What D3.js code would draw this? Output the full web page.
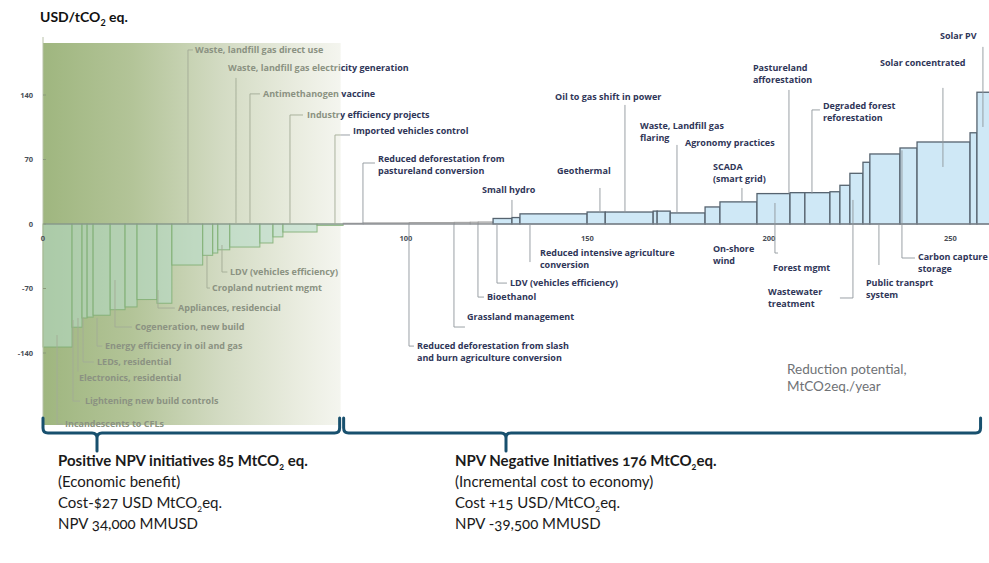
<!DOCTYPE html>
<html><head><meta charset="utf-8">
<script src="https://cdn.jsdelivr.net/npm/d3@7"></script>
<style>
html,body{margin:0;padding:0;background:#fff;}
svg{display:block;}
</style></head>
<body>
<svg id="c" width="989" height="563"></svg>
<script>
// ---------------- DATA ----------------
// Abatement measures, in curve order: width = reduction potential (MtCO2eq/year), cost = USD/tCO2eq
const barWidths = [8.0, 2.75, 1.4, 1.65, 4.7, 4.1, 3.3, 5.5, 4.1, 8.5, 2.75, 1.4, 3.3, 8.3, 3.6, 2.75, 9.4, 7.2,
  5.5, 12.7, 12.4, 4.4, 2.2, 4.1,
  5.2, 2.2, 18.5, 5.0, 13.2, 1.1, 3.6, 9.6, 4.1, 10.2, 9.1, 4.1, 6.9, 2.75, 2.75, 3.6, 1.9, 8.3, 4.7, 14.6, 1.9, 3.6];
const barCosts = [-133.5, -112, -102, -101, -99, -93, -90, -82, -86, -44.5, -34, -31.5, -28, -25, -20.6, -14, -8.7, -1.5,
  0.8, 1.2, 1.5, 1.8, 2, 2.2,
  6, 7, 11, 13, 13, 14, 14, 12, 18.5, 24, 33, 34, 34, 35, 42, 55, 67, 76, 82.5, 89, 99, 143];

const yTicks = [140, 70, 0, -70, -140];
const xTicks = [0, 100, 150, 200, 250];
const yTitle = ["USD/tCO", "2", " eq."];
const xTitle = ["Reduction potential,", "MtCO2eq./year"];
const npvSplit = 82; // MtCO2 where the positive-NPV group ends

// labels: text lines, and anchor / leader in data units (Mt, USD)
const labelTexts = [
  ["Incandescents to CFLs"], ["Lightening new build controls"], ["Electronics, residential"], ["LEDs, residential"],
  ["Energy efficiency in oil and gas"], ["Cogeneration, new build"], ["Appliances, residencial"], ["Cropland nutrient mgmt"],
  ["LDV (vehicles efficiency)"],
  ["Waste, landfill gas direct use"], ["Waste, landfill gas electricity generation"], ["Antimethanogen vaccine"],
  ["Industry efficiency projects"], ["Imported vehicles control"], ["Reduced deforestation from", "pastureland conversion"],
  ["Small hydro"], ["Geothermal"], ["Oil to gas shift in power"], ["Waste, Landfill gas", "flaring"], ["Agronomy practices"],
  ["SCADA", "(smart grid)"], ["Pastureland", "afforestation"], ["Degraded forest", "reforestation"], ["Solar concentrated"], ["Solar PV"],
  ["Reduced deforestation from slash", "and burn agriculture conversion"], ["Grassland management"], ["Bioethanol"],
  ["LDV (vehicles efficiency)"], ["Reduced intensive agriculture", "conversion"], ["On-shore", "wind"], ["Forest mgmt"],
  ["Wastewater", "treatment"], ["Public transprt", "system"], ["Carbon capture", "storage"]
];
const labelAt = [
  [6.06,-217.2],[11.57,-192.2],[9.9,-167.2],[14.88,-149.8],[17.08,-132.5],[25.34,-111.8],[37.19,-91.2],[46.56,-69.5],[51.52,-52.1],
  [41.87,188.9],[50.96,169.4],[60.61,141.2],[72.73,118.3],[85.4,101],[92.29,70.6],
  [120.94,36.9],[141.6,57.5],[141.05,137.9],[164.46,106.4],[176.86,87.9],[184.57,61.9],[195.59,169.4],[214.88,128.1],[230.58,174.8],[247.11,204.1],
  [103.03,-132.5],[116.8,-101],[122.31,-79.3],[128.65,-64.1],[136.91,-31.5],[184.57,-27.1],[201.1,-47.8],[199.72,-73.8],[226.72,-64.1],[241.05,-35.8]
];
const labelLeaders = [
  [[3.86,-120.5],[3.86,-217.2],[5.51,-217.2]],
  [[8.26,-104.2],[8.26,-192.2],[10.19,-192.2]],
  [[9.64,-102],[9.64,-160]],
  [[11.02,-101],[11.02,-149.8],[14,-149.8]],
  [[14.88,-102],[14.88,-132.5],[16.3,-132.5]],
  [[19.83,-60.8],[19.83,-111.8],[24.5,-111.8]],
  [[31.68,-71.7],[31.68,-91.2],[36.3,-91.2]],
  [[45.18,-33.7],[45.18,-69.5],[46,-69.5]],
  [[49.31,-22.8],[49.31,-52.1],[50.8,-52.1]],
  [[39.94,0],[39.94,188.9],[41.3,188.9]],
  [[53.17,0],[53.17,158.5]],
  [[57.02,0],[57.02,141.2],[59.78,141.2]],
  [[68.04,0],[68.04,118.3],[71.63,118.3]],
  [[80.44,0],[80.44,96.6],[84.57,96.6]],
  [[88.15,0],[88.15,66.2],[91.46,66.2]],
  [[129.2,26.1],[129.2,7.6]],
  [[153.44,39.1],[153.44,11.9]],
  [[160.33,129.2],[160.33,11.9]],
  [[174.66,85.8],[174.66,13]],
  [],
  [[192.56,39.1],[192.56,24]],
  [[205.51,145.5],[205.51,33]],
  [[214.05,123.8],[211.85,123.8],[211.85,33]],
  [[247.93,147.7],[247.93,61.9]],
  [[258.95,192.2],[258.95,105.3]],
  [[100.83,0],[100.83,-132.5],[102.2,-132.5]],
  [[113.22,0],[113.22,-111.8],[116.25,-111.8]],
  [[119.83,0],[119.83,-79.3],[121.49,-79.3]],
  [[125.07,0],[125.07,-64.1],[127.82,-64.1]],
  [[134.16,0],[134.16,-41.3]],
  [],
  [[201.65,22.8],[201.65,-31.5],[202.5,-31.5]],
  [[223.14,26.1],[223.14,-80.3],[219.56,-80.3]],
  [[230.3,0],[230.3,-44.5]],
  [[236.64,80],[236.64,-36.9],[240.22,-36.9]]
];

const leftSummary = [
  [["Positive NPV initiatives 85 MtCO", false], ["2", true], [" eq.", false]],
  [["(Economic benefit)", false]],
  [["Cost-$27 USD MtCO", false], ["2", true], ["eq.", false]],
  [["NPV 34,000 MMUSD", false]]
];
const rightSummary = [
  [["NPV Negative Initiatives 176 MtCO", false], ["2", true], ["eq.", false]],
  [["(Incremental cost to economy)", false]],
  [["Cost +15 USD/MtCO", false], ["2", true], ["eq.", false]],
  [["NPV -39,500 MMUSD", false]]
];

// ---------------- CHART ----------------
const svg = d3.select("#c");
const x = d3.scaleLinear().domain([0, 262]).range([43, 994]);
const y = d3.scaleLinear().domain([-140, 140]).range([353, 95]);
const panelTop = 43, panelBottom = 425;
const splitX = x(npvSplit);

const defs = svg.append("defs");
const g = defs.append("linearGradient").attr("id", "green").attr("x1", 0).attr("x2", 1).attr("y1", 0).attr("y2", 0);
[[0, "#9fb67f"], [0.3, "#b3c498"], [0.6, "#d3dbc3"], [0.85, "#e9ecdf"], [1, "#f4f5ef"]]
  .forEach(([o, c]) => g.append("stop").attr("offset", o).attr("stop-color", c));
defs.append("clipPath").attr("id", "clipL").append("rect")
  .attr("x", 0).attr("y", 0).attr("width", splitX).attr("height", 563);
defs.append("clipPath").attr("id", "clipR").append("rect")
  .attr("x", splitX).attr("y", 0).attr("width", 989 - splitX).attr("height", 563);

// green background panel for positive NPV
svg.append("rect").attr("x", x(0)).attr("y", panelTop)
  .attr("width", splitX - x(0)).attr("height", panelBottom - panelTop).attr("fill", "url(#green)");

// bars
const starts = [0, ...d3.cumsum(barWidths)].slice(0, barWidths.length);
const bars = barWidths.map((w, i) => ({ x0: starts[i], w, c: barCosts[i] }));
svg.append("g").selectAll("rect").data(bars).join("rect")
  .attr("x", d => x(d.x0))
  .attr("width", d => x(d.x0 + d.w) - x(d.x0))
  .attr("y", d => y(Math.max(0, d.c)))
  .attr("height", d => Math.abs(y(d.c) - y(0)))
  .attr("fill", d => d.c < 0 ? "#b6dccb" : (d.c < 3 ? "#d4d4d4" : "#cfe8f6"))
  .attr("fill-opacity", d => d.c < 0 ? 0.55 : 1)
  .attr("stroke", d => d.c < 0 ? "#7fae72" : (d.c < 3 ? "#9c9c9c" : "#56636f"))
  .attr("stroke-opacity", d => d.c < 0 ? 0.85 : 1)
  .attr("stroke-width", d => d.c >= 3 ? 1.3 : 1);

// zero line
svg.append("line").attr("x1", x(0)).attr("x2", x(d3.sum(barWidths)))
  .attr("y1", y(0)).attr("y2", y(0)).attr("stroke", "#8a8f95").attr("stroke-width", 1);

// y axis line
svg.append("line").attr("x1", x(0)).attr("x2", x(0)).attr("y1", panelTop - 6).attr("y2", panelBottom)
  .attr("stroke", "#b8c2a8").attr("stroke-width", 1);

// tick labels
const tickFont = "'Open Sans', sans-serif";
svg.append("g").selectAll("text").data(yTicks).join("text")
  .attr("x", 33).attr("y", d => y(d)).attr("dy", "0.35em").attr("text-anchor", "end")
  .attr("font-family", tickFont).attr("font-size", 7.5).attr("font-weight", "bold").attr("fill", "#4a4f58")
  .text(d => d);
svg.append("g").selectAll("line").data(yTicks).join("line")
  .attr("x1", x(0)).attr("x2", x(0) + 3).attr("y1", d => y(d)).attr("y2", d => y(d))
  .attr("stroke", "#8a9a7a");
svg.append("g").selectAll("text").data(xTicks).join("text")
  .attr("x", d => x(d)).attr("y", y(0) + 17).attr("text-anchor", "middle")
  .attr("font-family", tickFont).attr("font-size", 7.5).attr("font-weight", "bold").attr("fill", "#4a4f58")
  .text(d => d);

// leaders and labels (drawn twice: faded inside green panel, dark outside)
const line = d3.line().x(p => x(p[0])).y(p => y(p[1]));
function drawLabels(parent, textColor, leaderColor) {
  parent.append("g").selectAll("path").data(labelLeaders.filter(l => l.length)).join("path")
    .attr("d", line).attr("fill", "none").attr("stroke", leaderColor).attr("stroke-width", 0.9);
  const t = parent.append("g").selectAll("text").data(labelTexts).join("text")
    .attr("x", (d, i) => x(labelAt[i][0])).attr("y", (d, i) => y(labelAt[i][1]))
    .attr("font-family", "'Open Sans', sans-serif").attr("font-size", 9).attr("font-weight", "bold")
    .attr("fill", textColor);
  t.each(function (d, i) {
    d3.select(this).selectAll("tspan").data(d).join("tspan")
      .attr("x", x(labelAt[i][0])).attr("dy", (s, j) => j === 0 ? "0.35em" : "12px").text(s => s);
  });
}
drawLabels(svg.append("g").attr("clip-path", "url(#clipL)"), "#8b9282", "#a3ab96");
drawLabels(svg.append("g").attr("clip-path", "url(#clipR)"), "#2f3658", "#8f969c");

// axis titles
const yt = svg.append("text").attr("x", 40).attr("y", 22)
  .attr("font-family", "Lato, 'Open Sans', sans-serif").attr("font-size", 14).attr("font-weight", "bold").attr("fill", "#111");
yt.append("tspan").text(yTitle[0]);
yt.append("tspan").attr("font-size", 9).attr("dy", 4).text(yTitle[1]);
yt.append("tspan").attr("dy", -4).text(yTitle[2]);

svg.append("g").selectAll("text").data(xTitle).join("text")
  .attr("x", x(205)).attr("y", (d, i) => 374 + i * 17)
  .attr("font-family", "Lato, 'Open Sans', sans-serif").attr("font-size", 13.5).attr("fill", "#6f7276")
  .style("font-variant-numeric", "oldstyle-nums")
  .text(d => d);

// brackets
const bc = "#18506e";
const by = 433, hookTop = 418;
function bracket(xa, xb, xt) {
  const p = d3.path();
  p.moveTo(xa, hookTop); p.lineTo(xa, by - 5); p.quadraticCurveTo(xa, by, xa + 5, by);
  p.lineTo(xt - 5, by); p.quadraticCurveTo(xt, by, xt, by + 5); p.lineTo(xt, by + 18);
  p.moveTo(xt, by + 5); p.quadraticCurveTo(xt, by, xt + 5, by);
  p.lineTo(xb - 5, by); p.quadraticCurveTo(xb, by, xb, by - 5); p.lineTo(xb, hookTop);
  svg.append("path").attr("d", p.toString()).attr("fill", "none").attr("stroke", bc)
    .attr("stroke-width", 3).attr("stroke-linecap", "round");
}
bracket(x(0), splitX - 1, 97);
bracket(splitX + 3, x(258.3), 506);

// summaries
function summary(lines, x0) {
  lines.forEach((parts, i) => {
    const t = svg.append("text").attr("x", x0).attr("y", 470 + i * 21)
      .attr("font-family", "Lato, 'Open Sans', sans-serif").attr("font-size", 15)
      .attr("font-weight", i === 0 ? "bold" : "normal").attr("fill", "#1a1a1a")
      .style("font-variant-numeric", "oldstyle-nums");
    parts.forEach(([s, sub]) => {
      if (sub) t.append("tspan").attr("font-size", 9).attr("dy", 4).text(s);
      else t.append("tspan").attr("dy", t.selectAll("tspan").size() ? -4 : 0).text(s);
    });
  });
}
summary(leftSummary, 58);
summary(rightSummary, 455);
</script>
</body></html>
